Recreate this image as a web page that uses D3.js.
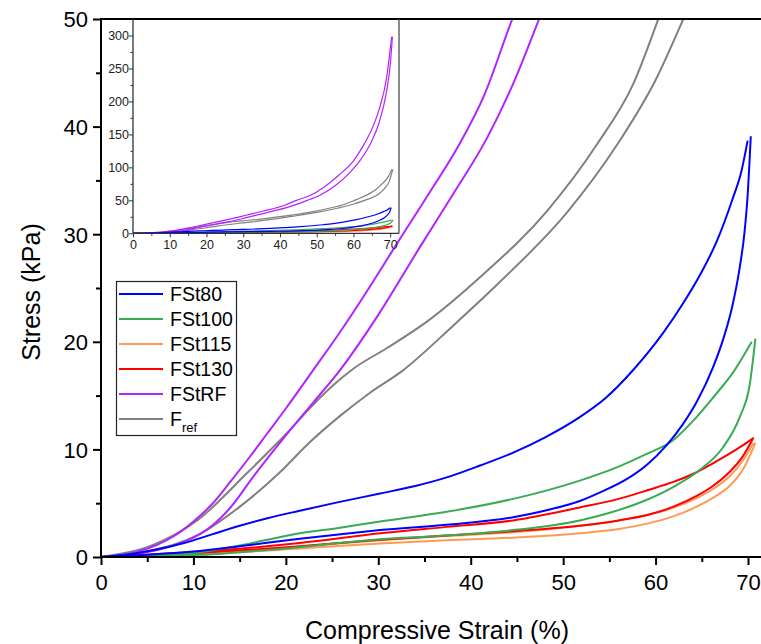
<!DOCTYPE html>
<html><head><meta charset="utf-8">
<script src="https://cdn.jsdelivr.net/npm/d3@7"></script>
<style>body{margin:0;background:#fff}svg{display:block}</style>
</head><body>
<script>
// ---- data (strain %, stress kPa) ----
const fst80Up   = [[0,0],[3,0.25],[6,0.7],[9,1.3],[12,2.1],[15,2.9],[18,3.6],[21.5,4.3],[25.7,5.1],[30.2,5.9],[34,6.6],[37.4,7.4],[41,8.5],[44.6,9.7],[48,11.1],[51.8,13.0],[54.5,14.7],[57.6,17.4],[60.8,20.8],[63,23.6],[64.8,26.2],[66.6,29.3],[68.3,33.2],[69.3,35.9],[69.96,38.7]];
const fst80Down = [[0,0],[5,0.2],[10,0.5],[15,1.0],[21.5,1.7],[25.7,2.1],[30.2,2.5],[37.4,3.0],[44.6,3.7],[48,4.3],[51.8,5.2],[54,6.0],[57,7.3],[59.1,8.6],[61.2,10.4],[63,12.4],[64.5,14.5],[66.2,17.6],[67.3,20.2],[68.3,23.3],[69.1,26.9],[69.6,30.0],[69.95,33.5],[70.3,39.1]];
const fst100Up   = [[0,0],[5,0.15],[10.7,0.45],[14.3,0.95],[18,1.6],[21.5,2.2],[25.7,2.7],[30.2,3.3],[37.4,4.2],[44.6,5.4],[51.8,7.1],[56,8.4],[59.1,9.6],[61.9,10.85],[64,12.6],[66.2,14.8],[68.5,17.3],[70.4,20.0]];
const fst100Down = [[0,0],[10.7,0.2],[15,0.45],[21.5,0.9],[25.7,1.3],[30.2,1.65],[37.4,2.0],[44.6,2.5],[51.8,3.4],[55.4,4.2],[59,5.3],[61.9,6.5],[64.8,8.1],[67.3,10.2],[69.1,13.0],[70.2,16.1],[70.8,20.3]];
const fst115Up   = [[0,0],[10.7,0.35],[21.5,0.95],[30.2,1.55],[37.4,1.95],[44.6,2.3],[51.8,2.9],[56,3.4],[59.1,3.9],[62,4.6],[64.5,5.5],[66.2,6.3],[68,7.5],[69.3,8.8],[70.6,10.6]];
const fst115Down = [[0,0],[10.7,0.25],[21.5,0.8],[30.2,1.25],[37.4,1.55],[44.6,1.8],[51.8,2.2],[56,2.6],[59.1,3.1],[62,3.8],[64.5,4.7],[66.2,5.5],[68,6.6],[69.5,8.2],[70.8,10.6]];
const fst130Up   = [[0,0],[10.7,0.5],[21.5,1.3],[30.2,2.2],[37.4,2.8],[44.6,3.4],[51.8,4.6],[56,5.4],[59.1,6.2],[62,7.0],[64.5,7.9],[66.2,8.7],[68,9.6],[69.3,10.3],[70.5,11.0]];
const fst130Down = [[0,0],[10.7,0.4],[21.5,1.0],[30.2,1.6],[37.4,2.0],[44.6,2.4],[51.8,2.9],[56,3.4],[59.1,3.9],[62,4.7],[64.5,5.7],[66.2,6.6],[68,7.9],[69.4,9.3],[70.6,11.1]];
const fstRFUp   = [[0,0],[2,0.15],[4,0.5],[6,1.1],[8,2.0],[10,3.3],[12,4.9],[14,7.0],[16,9.2],[18,11.5],[20,13.8],[22.9,17.3],[25.7,20.7],[29,25.0],[32,29.1],[35.5,33.8],[38.8,38.4],[41.5,43.0],[44.5,50],[48,57],[52,70],[56,88],[60,110],[63,136],[65,158],[67,188],[69,235],[70.4,298]];
const fstRFDown = [[0,0],[4,0.3],[8,1.1],[10,1.8],[12,2.9],[14,4.6],[16.5,7.5],[20,11.3],[23,14.4],[25.8,17.3],[30,22.5],[34.5,28.8],[38,33.6],[41.8,39.0],[44.7,44.2],[47.4,50],[51,58],[55,72],[59,92],[62,112],[65,140],[67,168],[69,215],[70.1,260],[70.6,298]];
const frefUp   = [[0,0],[5.3,1.0],[10.4,3.4],[15.8,7.8],[20.1,11.5],[23,14.2],[25.7,16.4],[27.3,17.5],[30.9,19.4],[35.3,21.9],[41,26.0],[48.3,32.2],[53.7,38.4],[57.6,44.0],[60.3,50],[62,54],[64,59],[66,66],[68,76],[69.5,86],[70.5,97]];
const frefDown = [[0,0],[5.3,0.6],[10.4,2.0],[15.2,4.8],[19.5,8.0],[22.5,10.6],[25.7,13.0],[29,15.2],[32.6,17.3],[38.1,21.5],[43.2,25.6],[50.4,32.0],[55.9,38.4],[60.1,44.5],[63,50],[64.5,53],[66.5,58],[68.3,67],[69.7,78],[70.7,97]];

const seriesNames  = ["FSt80","FSt100","FSt115","FSt130","FStRF","F_ref"];
const seriesColors = ["#0000ff","#3aaa55","#ff9a55","#ff0000","#b224ff","#808080"];
const seriesData   = [[fst80Up,fst80Down],[fst100Up,fst100Down],[fst115Up,fst115Down],[fst130Up,fst130Down],[fstRFUp,fstRFDown],[frefUp,frefDown]];

const mainXTicks = [0,10,20,30,40,50,60,70];
const mainYTicks = [0,10,20,30,40,50];
const insetXTicks = [0,10,20,30,40,50,60,70];
const insetYTicks = [0,50,100,150,200,250,300];

// ---- drawing ----
const W = 761, H = 644;
const FONT = "'Liberation Sans', Arial, sans-serif";
const svg = d3.select("body").append("svg").attr("width",W).attr("height",H)
  .style("font-family",FONT);

const x = d3.scaleLinear().domain([0,72.4]).range([101,770.2]);
const y = d3.scaleLinear().domain([0,50]).range([557,19]);

svg.append("clipPath").attr("id","mainClip").append("rect")
  .attr("x",101).attr("y",19).attr("width",670).attr("height",538);

const gMain = svg.append("g").attr("clip-path","url(#mainClip)");
const line = d3.line().x(d=>x(d[0])).y(d=>y(d[1])).curve(d3.curveMonotoneX);
const order = [5,4,2,3,1,0];
order.forEach(i=>{
  seriesData[i].forEach(br=>{
    gMain.append("path").attr("d",line(br)).attr("fill","none")
      .attr("stroke",seriesColors[i]).attr("stroke-width",2);
  });
});

// main axes
const xAxis = svg.append("g").attr("transform","translate(0,557)")
  .call(d3.axisBottom(x).tickValues(mainXTicks).tickSize(8).tickFormat(d3.format("d")));
const xMinor = svg.append("g").attr("transform","translate(0,557)")
  .call(d3.axisBottom(x).tickValues(d3.range(5,76,10)).tickSize(5).tickFormat(""));
const yAxis = svg.append("g").attr("transform","translate(101,0)")
  .call(d3.axisLeft(y).tickValues(mainYTicks).tickSize(8).tickFormat(d3.format("d")));
const yMinor = svg.append("g").attr("transform","translate(101,0)")
  .call(d3.axisLeft(y).tickValues(d3.range(5,50,10)).tickSize(5).tickFormat(""));
[xAxis,xMinor,yAxis,yMinor].forEach(g=>{
  g.select(".domain").remove();
  g.selectAll("line").attr("stroke","#000").attr("stroke-width",2);
  g.selectAll("text").attr("font-size",22).attr("fill","#000").attr("font-family",FONT);
});
xAxis.selectAll("text").attr("dy","0.71em").attr("y",17);
yAxis.selectAll("text").attr("x",-13).attr("dy","0.36em");
svg.append("line").attr("x1",101).attr("x2",761).attr("y1",557).attr("y2",557).attr("stroke","#000").attr("stroke-width",2);
svg.append("line").attr("x1",101).attr("x2",101).attr("y1",18).attr("y2",558).attr("stroke","#000").attr("stroke-width",2);
svg.append("line").attr("x1",100).attr("x2",761).attr("y1",19).attr("y2",19).attr("stroke","#000").attr("stroke-width",2);

svg.append("text").attr("x",437).attr("y",639).attr("text-anchor","middle")
  .attr("font-size",25).text("Compressive Strain (%)");
svg.append("text").attr("transform","translate(40,292) rotate(-90)").attr("text-anchor","middle")
  .attr("font-size",25).text("Stress (kPa)");

// legend
const lg = svg.append("g");
lg.append("rect").attr("x",116.5).attr("y",281.5).attr("width",120).attr("height",154)
  .attr("fill","#fff").attr("stroke","#222").attr("stroke-width",1.2);
seriesNames.forEach((n,i)=>{
  const yy = 294 + i*25;
  lg.append("line").attr("x1",119).attr("x2",163).attr("y1",yy).attr("y2",yy)
    .attr("stroke",seriesColors[i]).attr("stroke-width",2);
  const t = lg.append("text").attr("x",170).attr("y",yy).attr("dy","0.36em").attr("font-size",19.5);
  if(n==="F_ref"){ t.text("F"); t.append("tspan").attr("font-size",13).attr("dy","0.45em").text("ref"); }
  else t.text(n);
});

// inset
const ix = d3.scaleLinear().domain([0,72.4]).range([133,399]);
const iy = d3.scaleLinear().domain([0,325]).range([233.3,19]);
svg.append("rect").attr("x",133).attr("y",19).attr("width",266).attr("height",214.3).attr("fill","#fff");
svg.append("clipPath").attr("id","inClip").append("rect").attr("x",133).attr("y",19).attr("width",266).attr("height",214.3);
const gIn = svg.append("g").attr("clip-path","url(#inClip)");
const iline = d3.line().x(d=>ix(d[0])).y(d=>iy(d[1])).curve(d3.curveMonotoneX);
order.forEach(i=>{
  seriesData[i].forEach(br=>{
    gIn.append("path").attr("d",iline(br)).attr("fill","none")
      .attr("stroke",seriesColors[i]).attr("stroke-width",1.2);
  });
});
// inset frame
svg.append("line").attr("x1",399).attr("x2",399).attr("y1",19).attr("y2",233.3).attr("stroke","#666").attr("stroke-width",1.5);
svg.append("line").attr("x1",133).attr("x2",399).attr("y1",19).attr("y2",19).attr("stroke","#000").attr("stroke-width",2);
const ixA = svg.append("g").attr("transform","translate(0,233.3)")
  .call(d3.axisBottom(ix).tickValues(insetXTicks).tickSize(4).tickFormat(d3.format("d")));
const ixM = svg.append("g").attr("transform","translate(0,233.3)")
  .call(d3.axisBottom(ix).tickValues(d3.range(5,72,10)).tickSize(2.5).tickFormat(""));
const iyA = svg.append("g").attr("transform","translate(133,0)")
  .call(d3.axisLeft(iy).tickValues(insetYTicks).tickSize(4).tickFormat(d3.format("d")));
const iyM = svg.append("g").attr("transform","translate(133,0)")
  .call(d3.axisLeft(iy).tickValues(d3.range(25,325,50)).tickSize(2.5).tickFormat(""));
[ixA,ixM,iyA,iyM].forEach(g=>{
  g.select(".domain").remove();
  g.selectAll("line").attr("stroke","#333").attr("stroke-width",1);
  g.selectAll("text").attr("font-size",12.5).attr("fill","#222").attr("font-family",FONT);
});
ixA.selectAll("text").attr("y",7);
iyA.selectAll("text").attr("x",-4);
svg.append("line").attr("x1",133).attr("x2",399).attr("y1",233.3).attr("y2",233.3).attr("stroke","#333").attr("stroke-width",1.3);
svg.append("line").attr("x1",133).attr("x2",133).attr("y1",19).attr("y2",233.3).attr("stroke","#333").attr("stroke-width",1.3);
</script>
</body></html>
